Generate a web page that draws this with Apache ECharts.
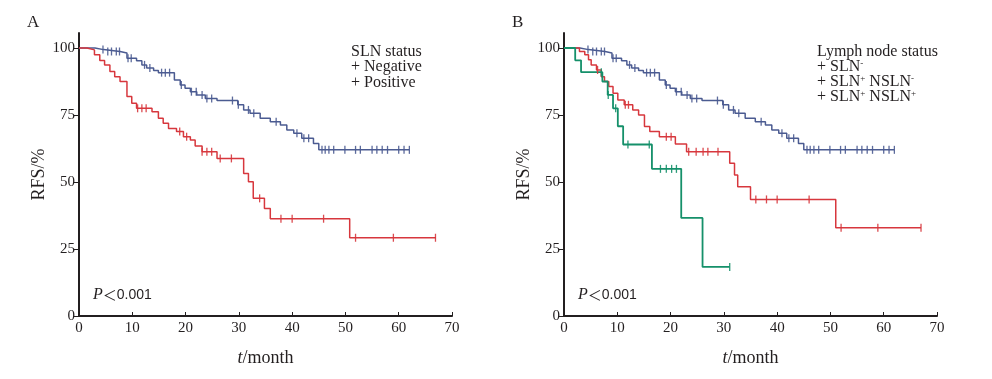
<!DOCTYPE html>
<html><head><meta charset="utf-8">
<script src="https://cdn.jsdelivr.net/npm/echarts@6/dist/echarts.min.js"></script>
<style>html,body{margin:0;padding:0;background:#fff}#c{width:992px;height:379px}</style>
</head><body><div id="c"></div>
<script>
// ---------- DATA ----------
const xTicks = [0, 10, 20, 30, 40, 50, 60, 70];
const yTicks = [0, 25, 50, 75, 100];

// SLN negative (panel A "Negative", panel B "SLN-")
const negTimes = [3, 4.6, 7.7, 9, 10.8, 11.8, 12.7, 14, 14.9, 17.9, 19, 19.9, 20.9, 22.1, 23.7, 25.9, 29.8, 30.9, 32.1, 34, 35.9, 37.8, 39, 40.3, 41.8, 44, 45];
const negSurv  = [99.4, 98.7, 98.1, 96.2, 95.2, 93.7, 92.5, 91.6, 90.8, 88.1, 86.2, 85, 83.7, 82.5, 81.2, 80.4, 78.8, 76.9, 75.7, 73.8, 72.5, 71.3, 69.4, 68.2, 66.3, 64.4, 62];
const negEnd = 62;
const negCensor = [4.5, 5.4, 6.1, 7, 7.6, 9.2, 9.8, 12.3, 13.3, 15.5, 16.2, 17, 19.2, 21.1, 22, 23.1, 24, 24.9, 28.8, 29.9, 31.8, 32.8, 37, 40.9, 42.2, 43.1, 45.6, 46.2, 46.9, 47.8, 49.9, 51.9, 52.8, 55, 55.9, 56.9, 57.9, 60, 61, 62];

// SLN positive (panel A "Positive")
const posTimes = [1.5, 2.9, 3.9, 4.8, 5.8, 6.7, 7.7, 9, 9.9, 10.8, 13.7, 14.9, 15.8, 16.8, 18.3, 19.6, 20.9, 21.8, 23.1, 25.9, 30.9, 31.8, 32.7, 34.8, 35.9, 50.8];
const posSurv  = [99.3, 97.5, 95.3, 93.7, 91.2, 89.3, 87.5, 81.9, 79.4, 77.5, 76.2, 73.8, 71.9, 70, 68.8, 66.9, 65.7, 63.4, 61.3, 58.8, 53.2, 50.1, 43.9, 40.1, 36.3, 29.2];
const posEnd = 67;
const posCensor = [11, 11.8, 12.6, 18.9, 20.2, 23.1, 24, 24.9, 26.5, 28.6, 33.9, 37.9, 40, 45.9, 51.9, 59, 66.9];

// SLN+ NSLN- (panel B)
const snTimes = [2.9, 3.9, 4.6, 5.1, 6.1, 7, 7.6, 8.4, 9.2, 10.1, 11.3, 12.9, 14, 15.1, 16.1, 17.9, 20.9, 23, 31.1, 32, 32.6, 35, 51];
const snSurv  = [98.7, 97.5, 95.6, 93.7, 91.8, 89.3, 87.5, 85.6, 83.1, 80.6, 78.8, 76.9, 75, 70.7, 68.8, 66.9, 64.2, 61.3, 57, 52.6, 48.2, 43.5, 32.9];
const snEnd = 67;
const snCensor = [6.3, 11.5, 12.1, 19.2, 20.1, 23.4, 24.8, 26.1, 27, 28.9, 36, 38, 40, 46, 52, 58.9, 67];

// SLN+ NSLN+ (panel B)
const ppTimes = [2.1, 3.2, 7.2, 8.2, 9.2, 10.1, 11.1, 16.5, 22, 26];
const ppSurv  = [95.4, 91, 87.5, 82.5, 77.5, 70.8, 64, 54.9, 36.6, 18.3];
const ppEnd = 31.1;
const ppCensor = [7, 8.3, 9.7, 12, 16, 18.1, 19.2, 20.2, 21.1, 31.1];

// ---------- HELPERS ----------
function steps(times, surv, end) {
  const d = [[0, 100]];
  for (let i = 0; i < times.length; i++) d.push([times[i], surv[i]]);
  d.push([end, surv[surv.length - 1]]);
  return d;
}
function censorPts(times, surv, cens) {
  return cens.map(c => {
    let v = 100;
    for (let i = 0; i < times.length; i++) if (times[i] <= c) v = surv[i];
    return [c, v];
  });
}

const BLUE = '#4b5b91', RED = '#d7373d', GREEN = '#15906a', INK = '#231f20';
const SERIF = '"Liberation Serif","Times New Roman",serif';

function xAxisCfg(gi) {
  return {
    gridIndex: gi, type: 'value', min: 0, max: 70, interval: 10,
    axisLine: { show: true, onZero: false, lineStyle: { color: INK, width: 2 } },
    axisTick: { show: true, inside: true, length: 4, lineStyle: { color: INK, width: 1 } },
    axisLabel: { color: INK, fontFamily: SERIF, fontSize: 15, margin: 5 },
    splitLine: { show: false },
    name: '{i|t}/month', nameLocation: 'middle', nameGap: 33,
    nameTextStyle: { color: INK, fontFamily: SERIF, fontSize: 18,
      rich: { i: { fontStyle: 'italic', fontFamily: SERIF, fontSize: 18, color: INK } } }
  };
}
function yAxisCfg(gi) {
  return {
    gridIndex: gi, type: 'value', min: 0, max: 105.6, interval: 25,
    axisLine: { show: true, onZero: false, lineStyle: { color: INK, width: 2 } },
    axisTick: { show: true, inside: false, length: 5, customValues: yTicks, lineStyle: { color: INK, width: 1 } },
    axisLabel: { color: INK, fontFamily: SERIF, fontSize: 15, margin: 4, customValues: yTicks },
    splitLine: { show: false },
    name: 'RFS/%', nameLocation: 'middle', nameGap: 31, nameRotate: 90,
    nameTextStyle: { color: INK, fontFamily: SERIF, fontSize: 18 }
  };
}
function lineSeries(data, color, xi, w) {
  return { type: 'line', step: 'end', data, xAxisIndex: xi, yAxisIndex: xi, showSymbol: false,
    lineStyle: { color, width: w || 1.5 }, silent: true, z: 3 };
}
function censSeries(data, color, xi) {
  return { type: 'scatter', data, xAxisIndex: xi, yAxisIndex: xi, symbol: 'rect', symbolSize: [1.3, 8],
    itemStyle: { color, opacity: 0.9 }, silent: true, z: 4 };
}

const legendRich = {
  p1: { color: '#6f7896', fontFamily: SERIF, fontSize: 16 },
  p2: { color: '#c9826b', fontFamily: SERIF, fontSize: 16 },
  p3: { color: '#1b8a62', fontFamily: SERIF, fontSize: 16 },
  t: { color: INK, fontFamily: SERIF, fontSize: 16, lineHeight: 16 },
  s: { color: INK, fontFamily: SERIF, fontSize: 9, lineHeight: 9, verticalAlign: 'top' }
};
function txt(x, y, text, extra) {
  return Object.assign({ type: 'text', x, y, silent: true,
    style: Object.assign({ text, fill: INK, font: '16px ' + SERIF, verticalAlign: 'middle', rich: legendRich }, extra || {}) });
}
const pRich = {
  i: { fontStyle: 'italic', fontFamily: SERIF, fontSize: 16, color: INK },
  lt: { fontFamily: '"Noto Sans CJK SC",sans-serif', fontSize: 14, color: INK },
  n: { fontFamily: '"Liberation Sans",Arial,sans-serif', fontSize: 14, color: INK }
};

const chart = echarts.init(document.getElementById('c'), null, { renderer: 'canvas' });
chart.setOption({
  animation: false,
  backgroundColor: '#fff',
  grid: [
    { left: 79, top: 33, width: 373, bottom: 63 },
    { left: 564, top: 33, width: 373, bottom: 63 }
  ],
  xAxis: [xAxisCfg(0), xAxisCfg(1)],
  yAxis: [yAxisCfg(0), yAxisCfg(1)],
  series: [
    lineSeries(steps(negTimes, negSurv, negEnd), BLUE, 0),
    censSeries(censorPts(negTimes, negSurv, negCensor), BLUE, 0),
    lineSeries(steps(posTimes, posSurv, posEnd), RED, 0),
    censSeries(censorPts(posTimes, posSurv, posCensor), RED, 0),
    lineSeries(steps(negTimes, negSurv, negEnd), BLUE, 1),
    censSeries(censorPts(negTimes, negSurv, negCensor), BLUE, 1),
    lineSeries(steps(snTimes, snSurv, snEnd), RED, 1),
    censSeries(censorPts(snTimes, snSurv, snCensor), RED, 1),
    lineSeries(steps(ppTimes, ppSurv, ppEnd), GREEN, 1, 1.8),
    censSeries(censorPts(ppTimes, ppSurv, ppCensor), GREEN, 1)
  ],
  graphic: [
    txt(27, 23, 'A', { font: '17px ' + SERIF }),
    txt(512, 23, 'B', { font: '17px ' + SERIF }),
    txt(351, 52, '{t|SLN status}'),
    txt(351, 67, '{p1|+} {t|Negative}'),
    txt(351, 82.5, '{p2|+} {t|Positive}'),
    txt(817, 52, '{t|Lymph node status}'),
    txt(817, 67, '{p1|+} {t|SLN}{s|-}'),
    txt(817, 82, '{p2|+} {t|SLN}{s|+}{t| NSLN}{s|-}'),
    txt(817, 97, '{p3|+} {t|SLN}{s|+}{t| NSLN}{s|+}'),
    txt(93, 295, '{i|P}{lt|＜}{n|0.001}', { rich: pRich }),
    txt(578, 295, '{i|P}{lt|＜}{n|0.001}', { rich: pRich })
  ]
});
</script>
</body></html>
